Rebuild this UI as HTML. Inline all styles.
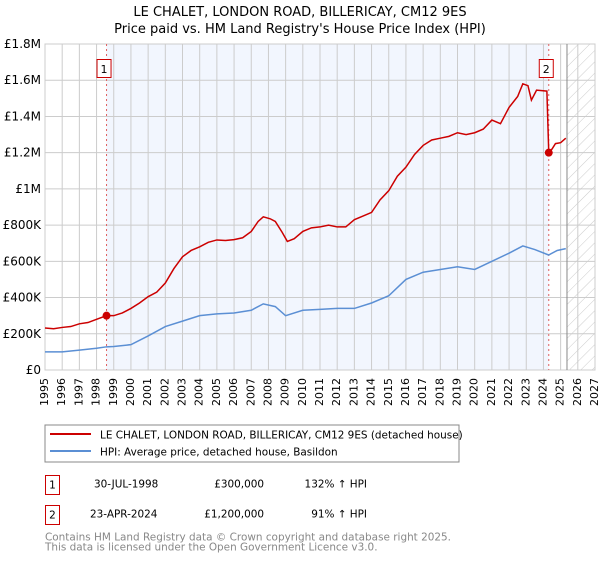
<!DOCTYPE html>
<html><head><meta charset="utf-8"><style>
body{margin:0;background:#fff;font-family:"DejaVu Sans","Liberation Sans",sans-serif;}
svg text{font-family:"DejaVu Sans","Liberation Sans",sans-serif;}
</style></head><body>
<svg id="chart" width="600" height="560" viewBox="0 0 600 560">
<defs><pattern id="hatch" width="8" height="8" patternUnits="userSpaceOnUse" patternTransform="rotate(45)"><line x1="0" y1="0" x2="0" y2="8" stroke="#ccc" stroke-width="1"/></pattern></defs>
<text x="300" y="16" text-anchor="middle" font-size="13" fill="#000">LE CHALET, LONDON ROAD, BILLERICAY, CM12 9ES</text>
<text x="300" y="33" text-anchor="middle" font-size="13" fill="#000">Price paid vs. HM Land Registry's House Price Index (HPI)</text>
<g id="plot"></g>
<g>
<rect x="45" y="425" width="414" height="37" fill="#fff" stroke="#888"/>
<line x1="50" y1="434" x2="91" y2="434" stroke="#cc0000" stroke-width="2"/>
<text x="100" y="438.5" font-size="10.45">LE CHALET, LONDON ROAD, BILLERICAY, CM12 9ES (detached house)</text>
<line x1="50" y1="451" x2="91" y2="451" stroke="#5b8fd4" stroke-width="2"/>
<text x="100" y="455.5" font-size="10.45">HPI: Average price, detached house, Basildon</text>
</g>
<g font-size="10.45">
<rect x="45.5" y="475.5" width="14" height="19" fill="#fff" stroke="#c00"/>
<text x="52.5" y="488.5" text-anchor="middle">1</text>
<text x="94" y="487.5">30-JUL-1998</text>
<text x="264" y="487.5" text-anchor="end">£300,000</text>
<text x="367" y="487.5" text-anchor="end">132% ↑ HPI</text>
<rect x="45.5" y="505.5" width="14" height="19" fill="#fff" stroke="#c00"/>
<text x="52.5" y="518.5" text-anchor="middle">2</text>
<text x="90" y="517.5">23-APR-2024</text>
<text x="264" y="517.5" text-anchor="end">£1,200,000</text>
<text x="367" y="517.5" text-anchor="end">91% ↑ HPI</text>
</g>
<text x="45" y="540.5" font-size="10.45" fill="#888">Contains HM Land Registry data © Crown copyright and database right 2025.</text>
<text x="45" y="550.5" font-size="10.45" fill="#888">This data is licensed under the Open Government Licence v3.0.</text>
</svg>
<script>
const priceYears=[1995,1995.5,1996,1996.5,1997,1997.5,1998,1998.58,1999,1999.5,2000,2000.5,2001,2001.5,2002,2002.5,2003,2003.5,2004,2004.5,2005,2005.5,2006,2006.5,2007,2007.4,2007.7,2008.1,2008.4,2008.8,2009.1,2009.5,2010,2010.5,2011,2011.5,2012,2012.5,2013,2013.5,2014,2014.5,2015,2015.5,2016,2016.5,2017,2017.5,2018,2018.5,2019,2019.5,2020,2020.5,2021,2021.5,2022,2022.5,2022.8,2023.1,2023.3,2023.6,2024.2,2024.31,2024.5,2024.7,2025.0,2025.3];
const priceValues=[0.232,0.228,0.235,0.24,0.255,0.262,0.28,0.300,0.30,0.315,0.34,0.37,0.405,0.43,0.48,0.56,0.625,0.66,0.68,0.705,0.718,0.715,0.72,0.73,0.765,0.82,0.846,0.835,0.82,0.76,0.71,0.725,0.765,0.785,0.79,0.80,0.79,0.79,0.83,0.85,0.87,0.94,0.99,1.07,1.12,1.19,1.24,1.27,1.28,1.29,1.31,1.30,1.31,1.33,1.38,1.36,1.45,1.51,1.58,1.57,1.49,1.545,1.54,1.20,1.22,1.25,1.255,1.28];
const hpiYears=[1995,1996,1997,1998,1998.58,1999,2000,2001,2002,2003,2004,2005,2006,2007,2007.7,2008.4,2009,2010,2011,2012,2013,2014,2015,2016,2017,2018,2019,2020,2021,2022,2022.8,2023.5,2024.3,2024.8,2025.3];
const hpiValues=[0.10,0.10,0.11,0.12,0.128,0.13,0.14,0.188,0.24,0.27,0.30,0.31,0.315,0.33,0.365,0.35,0.30,0.33,0.335,0.34,0.34,0.37,0.41,0.50,0.54,0.555,0.57,0.555,0.60,0.645,0.685,0.665,0.635,0.66,0.67];
const yTicks=[0,0.2,0.4,0.6,0.8,1.0,1.2,1.4,1.6,1.8];
const yTickLabels=["£0","£200K","£400K","£600K","£800K","£1M","£1.2M","£1.4M","£1.6M","£1.8M"];
const xTicks=[1995,1996,1997,1998,1999,2000,2001,2002,2003,2004,2005,2006,2007,2008,2009,2010,2011,2012,2013,2014,2015,2016,2017,2018,2019,2020,2021,2022,2023,2024,2025,2026,2027];
const sales=[{label:"1",year:1998.58,value:0.300},{label:"2",year:2024.31,value:1.20}];
const forecastStart=2025.37;

const L=45,R=595,T=44,B=370,X0=1995,X1=2027,YMAX=1.8;
const xs=v=>L+(v-X0)/(X1-X0)*(R-L);
const ys=v=>B-v/YMAX*(B-T);
const NS="http://www.w3.org/2000/svg";
const g=document.getElementById('plot');
function mk(tag,attrs){const e=document.createElementNS(NS,tag);for(const k in attrs)e.setAttribute(k,attrs[k]);g.appendChild(e);return e;}

let e=mk('rect',{x:xs(sales[0].year),y:T,width:xs(sales[1].year)-xs(sales[0].year),height:B-T,fill:'#f2f6fe'});


e=mk('rect',{x:xs(forecastStart),y:T,width:R-xs(forecastStart),height:B-T,fill:'url(#hatch)'});


xTicks.forEach((t,i)=>{
  let l=mk('line',{x1:xs(t),x2:xs(t),y1:T,y2:B,stroke:'#ccc','stroke-width':1});
  
  
  let tx=mk('text',{x:xs(t),y:B+8,'font-size':11,transform:`rotate(-90 ${xs(t)} ${B+8})`,'text-anchor':'end','dominant-baseline':'middle'});
  tx.textContent=t;
  
  
});
yTicks.forEach((t,i)=>{
  let l=mk('line',{x1:L,x2:R,y1:ys(t),y2:ys(t),stroke:'#ccc','stroke-width':1});
  
  
  let tx=mk('text',{x:L-4,y:ys(t)+4,'font-size':12,'text-anchor':'end'});
  tx.textContent=yTickLabels[i];
  
  
});
e=mk('rect',{x:L,y:T,width:R-L,height:B-T,fill:'none',stroke:'#ccc'});


e=mk('line',{x1:xs(forecastStart),x2:xs(forecastStart),y1:T,y2:B,stroke:'#888','stroke-width':1});


sales.forEach(s=>{
  let l=mk('line',{x1:xs(s.year),x2:xs(s.year),y1:T,y2:B,stroke:'#e06060','stroke-width':1,'stroke-dasharray':'2,3'});
  
  
});
e=mk('polyline',{points:hpiYears.map((y,i)=>xs(y)+','+ys(hpiValues[i])).join(' '),fill:'none',stroke:'#5b8fd4','stroke-width':1.5});


e=mk('polyline',{points:priceYears.map((y,i)=>xs(y)+','+ys(priceValues[i])).join(' '),fill:'none',stroke:'#cc0000','stroke-width':1.5});


sales.forEach(s=>{
  let c=mk('circle',{cx:xs(s.year),cy:ys(s.value),r:4,fill:'#cc0000'});
  
  
  let bx=xs(s.year)-9;
  let r=mk('rect',{x:bx-0.5,y:59.5,width:14,height:18,fill:'#fff',stroke:'#c00'});
  
  
  let t=mk('text',{x:bx+6.5,y:73,'font-size':11,'text-anchor':'middle'});
  t.textContent=s.label;
  
  
});
</script>
</body></html>
